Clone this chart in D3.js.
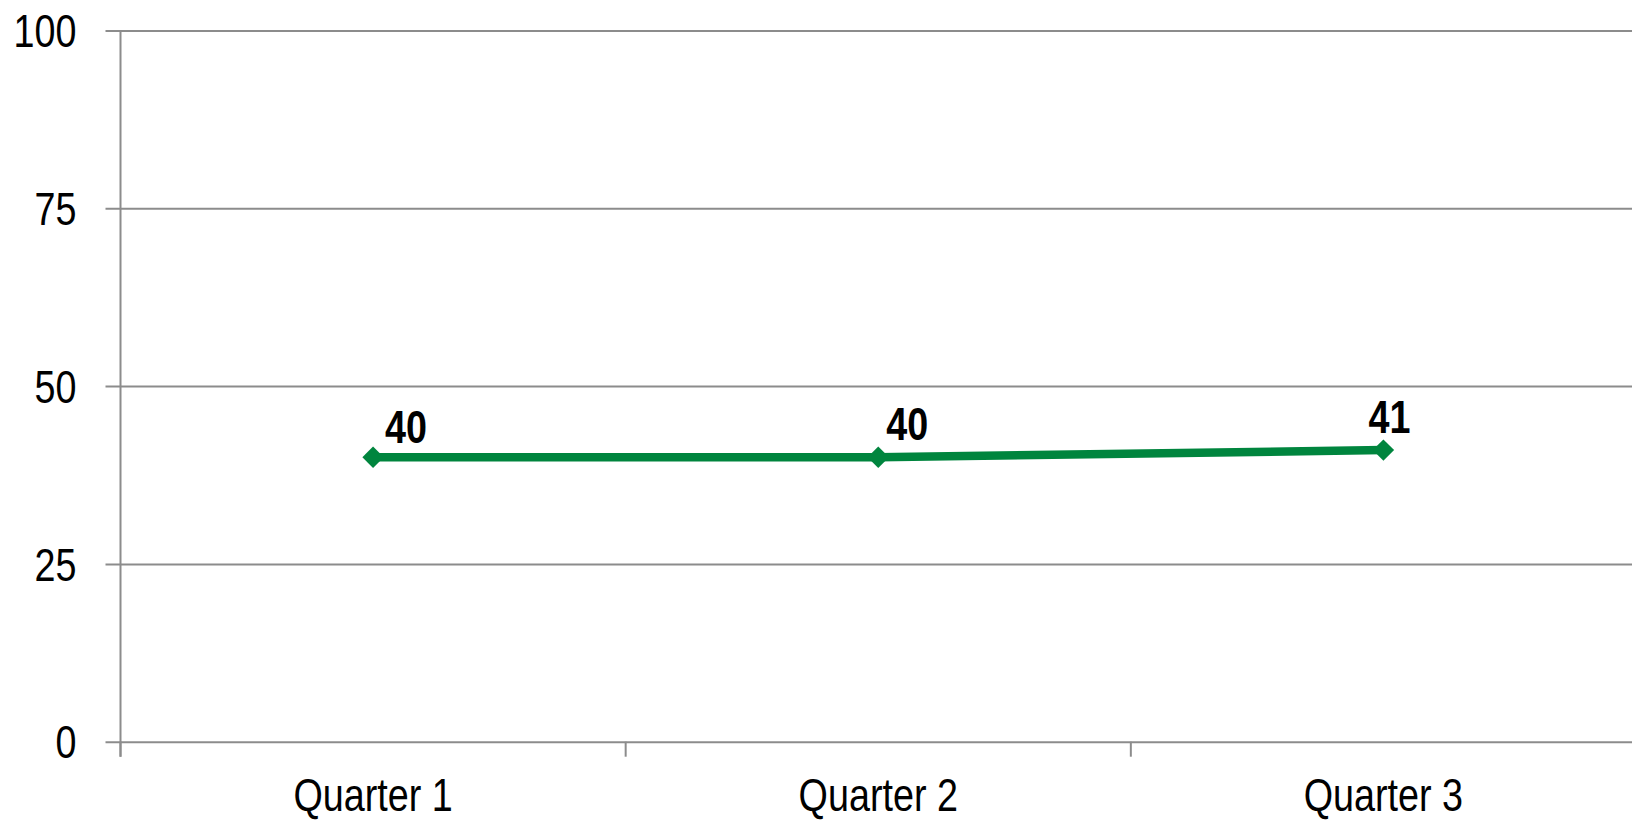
<!DOCTYPE html>
<html>
<head>
<meta charset="utf-8">
<script src="https://cdn.jsdelivr.net/npm/d3@7"></script>
<style>
  html, body { margin: 0; padding: 0; background: #fff; overflow: hidden; }
  svg { display: block; }
  text { font-family: "Liberation Sans", Arial, sans-serif; }
</style>
</head>
<body>
<svg id="chart" width="1632" height="822"></svg>
<script>
const categories = ["Quarter 1", "Quarter 2", "Quarter 3"];
const values = [40, 40, 41];
const yTicks = [0, 25, 50, 75, 100];

(function () {
const W = 1632, H = 822;
const mLeft = 120.5, mRight = 1636, mTop = 30.5, mBottom = 741.7;
const tickLen = 15;
const gridColor = "#8c8c8c";
const green = "#00853e";
const labelDx = [33, 29, 6];
const labelDy = [-14, -17, -17];
const fontSize = 46;
const narrow = 0.82;

const svg = d3.select("#chart");

const x = d3.scaleBand().domain(categories).range([mLeft, mRight]).paddingInner(0).paddingOuter(0);
const y = d3.scaleLinear().domain([0, 100]).range([mBottom, mTop]);

// Horizontal gridlines + y tick labels
const yAxis = d3.axisLeft(y).tickValues(yTicks).tickSize(tickLen).tickPadding(29).tickFormat(d3.format("d"));
const gy = svg.append("g").attr("transform", `translate(${mLeft},0)`).call(yAxis);
gy.select(".domain").remove();
gy.selectAll(".tick line").attr("stroke", gridColor).attr("stroke-width", 2).attr("x2", -tickLen).attr("x1", W - mLeft);
gy.selectAll(".tick text")
  .attr("font-size", fontSize).attr("fill", "#000").attr("dy", "0.35em")
  .attr("font-family", '"Liberation Sans", Arial, sans-serif')
  .attr("x", 0)
  .attr("transform", `translate(${-(tickLen + 29)},0) scale(${narrow},1)`);

// Vertical axis line
svg.append("line")
  .attr("x1", mLeft).attr("x2", mLeft)
  .attr("y1", mTop).attr("y2", mBottom + tickLen)
  .attr("stroke", gridColor).attr("stroke-width", 2);

// X axis: ticks at band boundaries
const boundaries = categories.map(c => x(c)).concat([x(categories[categories.length - 1]) + x.bandwidth()]);
svg.append("g").selectAll("line").data(boundaries).join("line")
  .attr("x1", d => d).attr("x2", d => d)
  .attr("y1", mBottom).attr("y2", mBottom + tickLen)
  .attr("stroke", gridColor).attr("stroke-width", 2);

svg.append("g").selectAll("text").data(categories).join("text")
  .attr("transform", d => `translate(${x(d) + x.bandwidth() / 2},811) scale(${narrow},1)`)
  .attr("text-anchor", "middle")
  .attr("font-size", fontSize)
  .attr("fill", "#000")
  .text(d => d);

// Line
const cx = (d, i) => x(categories[i]) + x.bandwidth() / 2;
const line = d3.line().x((d, i) => cx(d, i)).y(d => y(d));
svg.append("path")
  .datum(values)
  .attr("d", line)
  .attr("fill", "none")
  .attr("stroke", green)
  .attr("stroke-width", 8.5);

// Diamond markers
const diamond = d3.symbol().type(d3.symbolSquare).size(230);
svg.append("g").selectAll("path").data(values).join("path")
  .attr("d", diamond)
  .attr("transform", (d, i) => `translate(${cx(d, i)},${y(d)}) rotate(45)`)
  .attr("fill", green);

// Data labels
svg.append("g").selectAll("text").data(values).join("text")
  .attr("transform", (d, i) => `translate(${cx(d, i) + labelDx[i]},${y(d) + labelDy[i]}) scale(${narrow},1)`)
  .attr("text-anchor", "middle")
  .attr("font-size", fontSize)
  .attr("font-weight", "bold")
  .attr("fill", "#000")
  .text(d => d);
})();
</script>
</body>
</html>
